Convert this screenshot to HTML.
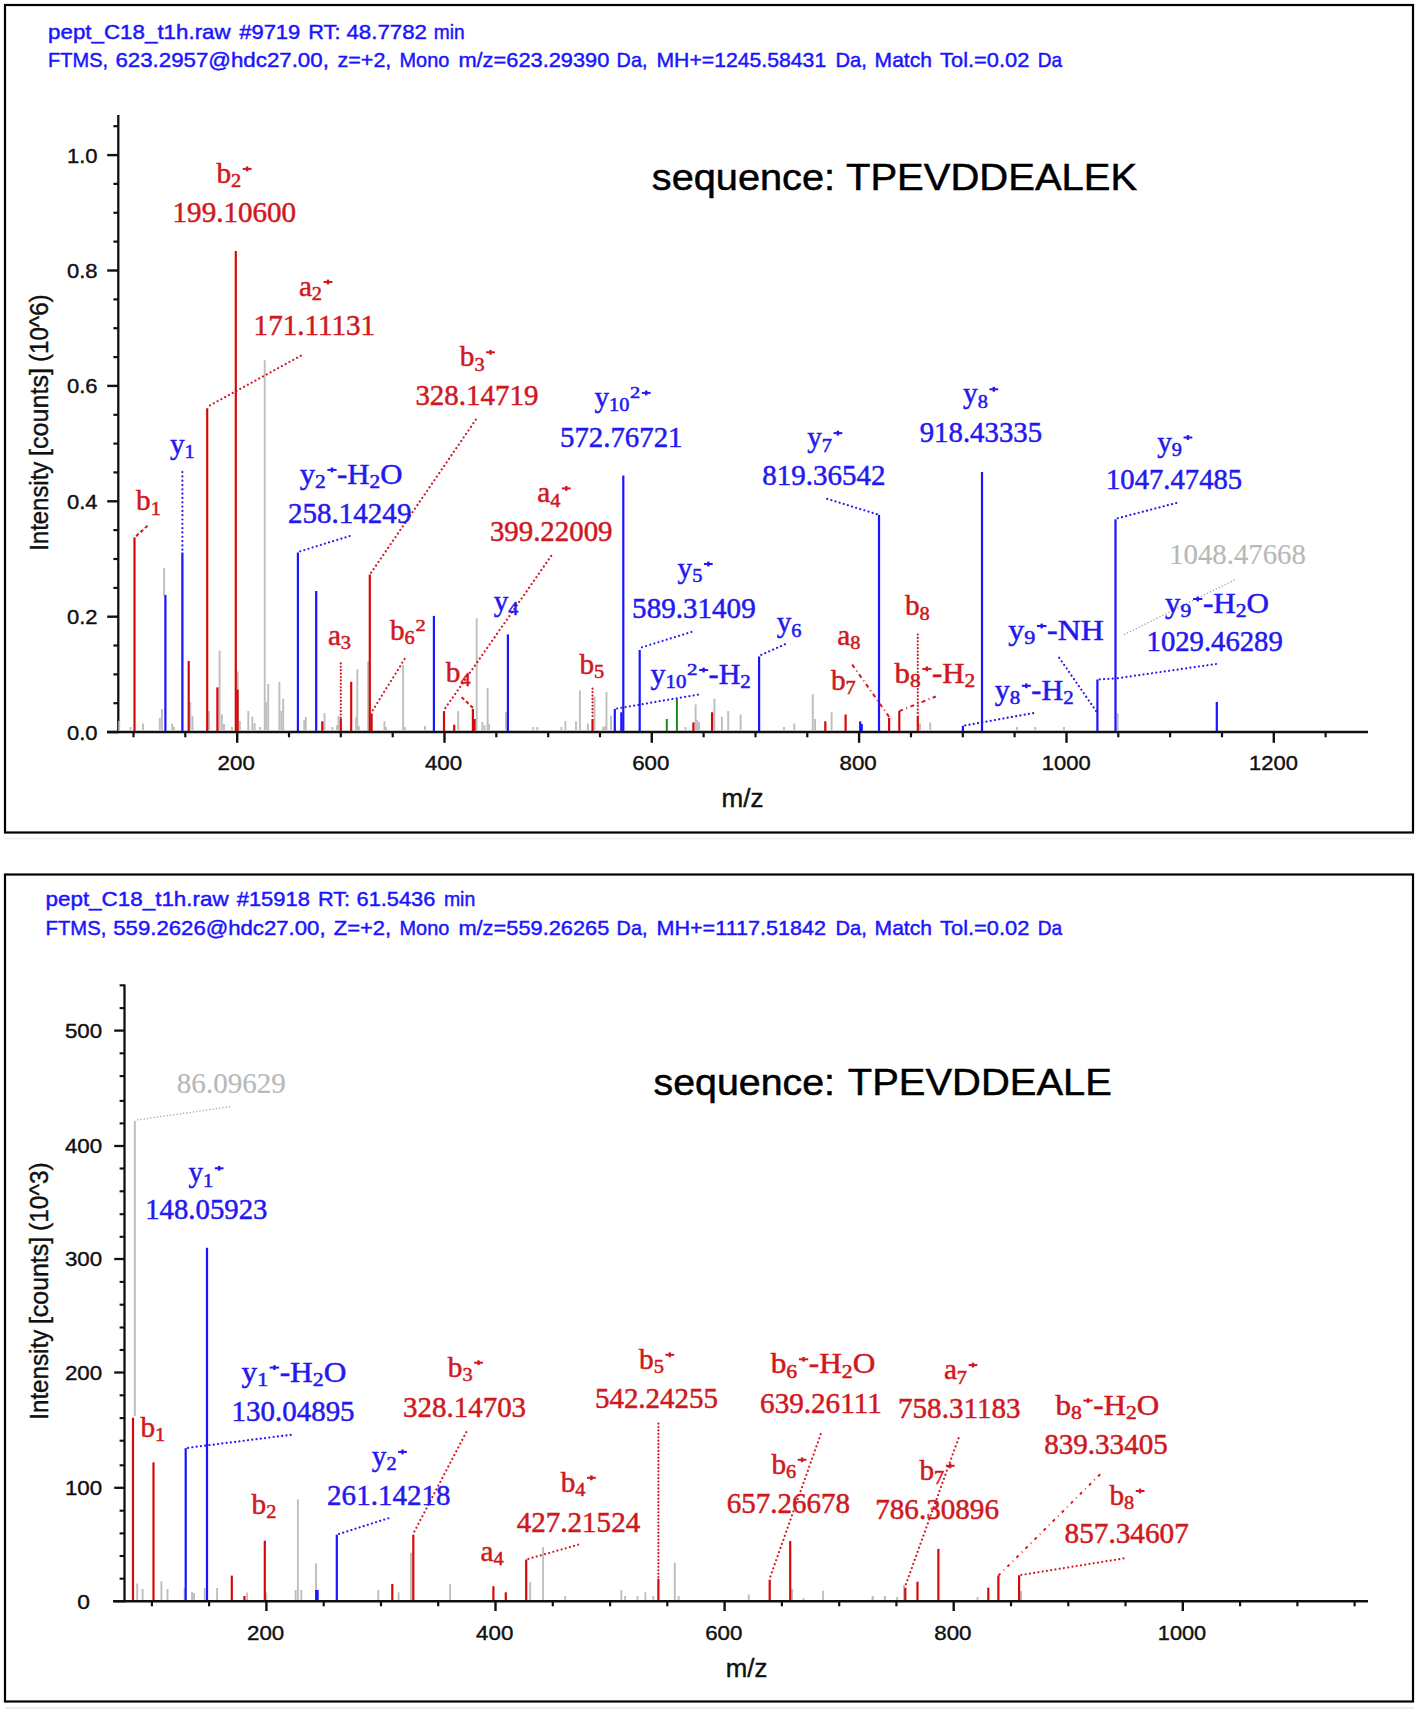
<!DOCTYPE html>
<html><head><meta charset="utf-8"><title>MS/MS spectra</title>
<style>html,body{margin:0;padding:0;background:#fff}svg{display:block}text{white-space:pre}</style></head>
<body><svg width="1418" height="1714" viewBox="0 0 1418 1714">
<rect width="1418" height="1714" fill="#fff"/>
<rect x="5" y="5" width="1408" height="827.5" fill="none" stroke="#000" stroke-width="2.2"/>
<line x1="5" y1="838.5" x2="1414" y2="838.5" stroke="#f2f2f2" stroke-width="1.5"/>
<text x="48.10" y="38.7" font-family="Liberation Sans, sans-serif" font-size="21" fill="#1a14ff" stroke="#1a14ff" stroke-width="0.45" textLength="182.55" lengthAdjust="spacingAndGlyphs">pept_C18_t1h.raw</text>
<text x="239.20" y="38.7" font-family="Liberation Sans, sans-serif" font-size="21" fill="#1a14ff" stroke="#1a14ff" stroke-width="0.45" textLength="61.12" lengthAdjust="spacingAndGlyphs">#9719</text>
<text x="308.30" y="38.7" font-family="Liberation Sans, sans-serif" font-size="21" fill="#1a14ff" stroke="#1a14ff" stroke-width="0.45" textLength="32.14" lengthAdjust="spacingAndGlyphs">RT:</text>
<text x="346.40" y="38.7" font-family="Liberation Sans, sans-serif" font-size="21" fill="#1a14ff" stroke="#1a14ff" stroke-width="0.45" textLength="80.60" lengthAdjust="spacingAndGlyphs">48.7782</text>
<text x="433.80" y="38.7" font-family="Liberation Sans, sans-serif" font-size="21" fill="#1a14ff" stroke="#1a14ff" stroke-width="0.45" textLength="30.83" lengthAdjust="spacingAndGlyphs">min</text>
<text x="48.10" y="67.0" font-family="Liberation Sans, sans-serif" font-size="21" fill="#1a14ff" stroke="#1a14ff" stroke-width="0.45" textLength="59.99" lengthAdjust="spacingAndGlyphs">FTMS,</text>
<text x="115.40" y="67.0" font-family="Liberation Sans, sans-serif" font-size="21" fill="#1a14ff" stroke="#1a14ff" stroke-width="0.45" textLength="213.47" lengthAdjust="spacingAndGlyphs">623.2957@hdc27.00,</text>
<text x="337.50" y="67.0" font-family="Liberation Sans, sans-serif" font-size="21" fill="#1a14ff" stroke="#1a14ff" stroke-width="0.45" textLength="53.84" lengthAdjust="spacingAndGlyphs">z=+2,</text>
<text x="399.50" y="67.0" font-family="Liberation Sans, sans-serif" font-size="21" fill="#1a14ff" stroke="#1a14ff" stroke-width="0.45" textLength="49.83" lengthAdjust="spacingAndGlyphs">Mono</text>
<text x="458.40" y="67.0" font-family="Liberation Sans, sans-serif" font-size="21" fill="#1a14ff" stroke="#1a14ff" stroke-width="0.45" textLength="150.94" lengthAdjust="spacingAndGlyphs">m/z=623.29390</text>
<text x="616.60" y="67.0" font-family="Liberation Sans, sans-serif" font-size="21" fill="#1a14ff" stroke="#1a14ff" stroke-width="0.45" textLength="30.82" lengthAdjust="spacingAndGlyphs">Da,</text>
<text x="656.40" y="67.0" font-family="Liberation Sans, sans-serif" font-size="21" fill="#1a14ff" stroke="#1a14ff" stroke-width="0.45" textLength="169.83" lengthAdjust="spacingAndGlyphs">MH+=1245.58431</text>
<text x="835.50" y="67.0" font-family="Liberation Sans, sans-serif" font-size="21" fill="#1a14ff" stroke="#1a14ff" stroke-width="0.45" textLength="31.32" lengthAdjust="spacingAndGlyphs">Da,</text>
<text x="874.60" y="67.0" font-family="Liberation Sans, sans-serif" font-size="21" fill="#1a14ff" stroke="#1a14ff" stroke-width="0.45" textLength="57.36" lengthAdjust="spacingAndGlyphs">Match</text>
<text x="940.10" y="67.0" font-family="Liberation Sans, sans-serif" font-size="21" fill="#1a14ff" stroke="#1a14ff" stroke-width="0.45" textLength="89.23" lengthAdjust="spacingAndGlyphs">Tol.=0.02</text>
<text x="1037.80" y="67.0" font-family="Liberation Sans, sans-serif" font-size="21" fill="#1a14ff" stroke="#1a14ff" stroke-width="0.45" textLength="24.47" lengthAdjust="spacingAndGlyphs">Da</text>
<text x="651.80" y="189.6" font-family="Liberation Sans, sans-serif" font-size="36.8" fill="#000" stroke="#000" stroke-width="0.5" textLength="183.19" lengthAdjust="spacingAndGlyphs">sequence:</text>
<text x="846.00" y="189.6" font-family="Liberation Sans, sans-serif" font-size="36.8" fill="#000" stroke="#000" stroke-width="0.5" textLength="291.23" lengthAdjust="spacingAndGlyphs">TPEVDDEALEK</text>
<line x1="118.3" y1="115.0" x2="118.3" y2="733.0" stroke="#101010" stroke-width="2.3" />
<line x1="107.0" y1="732.0" x2="1368.0" y2="732.0" stroke="#101010" stroke-width="2.5" />
<line x1="107.2" y1="732.1" x2="118.3" y2="732.1" stroke="#101010" stroke-width="2.4" />
<text x="82.2" y="739.5" font-family="Liberation Sans, sans-serif" font-size="20.8" fill="#101010" stroke="#101010" stroke-width="0.4" text-anchor="middle" textLength="30.6" lengthAdjust="spacingAndGlyphs" >0.0</text>
<line x1="113.4" y1="703.2" x2="118.3" y2="703.2" stroke="#101010" stroke-width="2.2" />
<line x1="113.4" y1="674.4" x2="118.3" y2="674.4" stroke="#101010" stroke-width="2.2" />
<line x1="113.4" y1="645.5" x2="118.3" y2="645.5" stroke="#101010" stroke-width="2.2" />
<line x1="107.2" y1="616.7" x2="118.3" y2="616.7" stroke="#101010" stroke-width="2.4" />
<text x="82.2" y="624.1" font-family="Liberation Sans, sans-serif" font-size="20.8" fill="#101010" stroke="#101010" stroke-width="0.4" text-anchor="middle" textLength="30.6" lengthAdjust="spacingAndGlyphs" >0.2</text>
<line x1="113.4" y1="587.9" x2="118.3" y2="587.9" stroke="#101010" stroke-width="2.2" />
<line x1="113.4" y1="559.0" x2="118.3" y2="559.0" stroke="#101010" stroke-width="2.2" />
<line x1="113.4" y1="530.1" x2="118.3" y2="530.1" stroke="#101010" stroke-width="2.2" />
<line x1="107.2" y1="501.3" x2="118.3" y2="501.3" stroke="#101010" stroke-width="2.4" />
<text x="82.2" y="508.7" font-family="Liberation Sans, sans-serif" font-size="20.8" fill="#101010" stroke="#101010" stroke-width="0.4" text-anchor="middle" textLength="30.6" lengthAdjust="spacingAndGlyphs" >0.4</text>
<line x1="113.4" y1="472.4" x2="118.3" y2="472.4" stroke="#101010" stroke-width="2.2" />
<line x1="113.4" y1="443.6" x2="118.3" y2="443.6" stroke="#101010" stroke-width="2.2" />
<line x1="113.4" y1="414.8" x2="118.3" y2="414.8" stroke="#101010" stroke-width="2.2" />
<line x1="107.2" y1="385.9" x2="118.3" y2="385.9" stroke="#101010" stroke-width="2.4" />
<text x="82.2" y="393.3" font-family="Liberation Sans, sans-serif" font-size="20.8" fill="#101010" stroke="#101010" stroke-width="0.4" text-anchor="middle" textLength="30.6" lengthAdjust="spacingAndGlyphs" >0.6</text>
<line x1="113.4" y1="357.1" x2="118.3" y2="357.1" stroke="#101010" stroke-width="2.2" />
<line x1="113.4" y1="328.2" x2="118.3" y2="328.2" stroke="#101010" stroke-width="2.2" />
<line x1="113.4" y1="299.4" x2="118.3" y2="299.4" stroke="#101010" stroke-width="2.2" />
<line x1="107.2" y1="270.5" x2="118.3" y2="270.5" stroke="#101010" stroke-width="2.4" />
<text x="82.2" y="277.9" font-family="Liberation Sans, sans-serif" font-size="20.8" fill="#101010" stroke="#101010" stroke-width="0.4" text-anchor="middle" textLength="30.6" lengthAdjust="spacingAndGlyphs" >0.8</text>
<line x1="113.4" y1="241.6" x2="118.3" y2="241.6" stroke="#101010" stroke-width="2.2" />
<line x1="113.4" y1="212.8" x2="118.3" y2="212.8" stroke="#101010" stroke-width="2.2" />
<line x1="113.4" y1="183.9" x2="118.3" y2="183.9" stroke="#101010" stroke-width="2.2" />
<line x1="107.2" y1="155.1" x2="118.3" y2="155.1" stroke="#101010" stroke-width="2.4" />
<text x="82.2" y="162.5" font-family="Liberation Sans, sans-serif" font-size="20.8" fill="#101010" stroke="#101010" stroke-width="0.4" text-anchor="middle" textLength="30.6" lengthAdjust="spacingAndGlyphs" >1.0</text>
<line x1="113.4" y1="126.2" x2="118.3" y2="126.2" stroke="#101010" stroke-width="2.2" />
<line x1="133.5" y1="732.0" x2="133.5" y2="737.3" stroke="#101010" stroke-width="2.2" />
<line x1="185.3" y1="732.0" x2="185.3" y2="737.3" stroke="#101010" stroke-width="2.2" />
<line x1="237.2" y1="732.0" x2="237.2" y2="742.8" stroke="#101010" stroke-width="2.4" />
<text x="236.2" y="770.3" font-family="Liberation Sans, sans-serif" font-size="20.8" fill="#101010" stroke="#101010" stroke-width="0.4" text-anchor="middle" textLength="37.2" lengthAdjust="spacingAndGlyphs" >200</text>
<line x1="289.0" y1="732.0" x2="289.0" y2="737.3" stroke="#101010" stroke-width="2.2" />
<line x1="340.8" y1="732.0" x2="340.8" y2="737.3" stroke="#101010" stroke-width="2.2" />
<line x1="392.7" y1="732.0" x2="392.7" y2="737.3" stroke="#101010" stroke-width="2.2" />
<line x1="444.5" y1="732.0" x2="444.5" y2="742.8" stroke="#101010" stroke-width="2.4" />
<text x="443.5" y="770.3" font-family="Liberation Sans, sans-serif" font-size="20.8" fill="#101010" stroke="#101010" stroke-width="0.4" text-anchor="middle" textLength="37.2" lengthAdjust="spacingAndGlyphs" >400</text>
<line x1="496.3" y1="732.0" x2="496.3" y2="737.3" stroke="#101010" stroke-width="2.2" />
<line x1="548.2" y1="732.0" x2="548.2" y2="737.3" stroke="#101010" stroke-width="2.2" />
<line x1="600.0" y1="732.0" x2="600.0" y2="737.3" stroke="#101010" stroke-width="2.2" />
<line x1="651.8" y1="732.0" x2="651.8" y2="742.8" stroke="#101010" stroke-width="2.4" />
<text x="650.8" y="770.3" font-family="Liberation Sans, sans-serif" font-size="20.8" fill="#101010" stroke="#101010" stroke-width="0.4" text-anchor="middle" textLength="37.2" lengthAdjust="spacingAndGlyphs" >600</text>
<line x1="703.6" y1="732.0" x2="703.6" y2="737.3" stroke="#101010" stroke-width="2.2" />
<line x1="755.5" y1="732.0" x2="755.5" y2="737.3" stroke="#101010" stroke-width="2.2" />
<line x1="807.3" y1="732.0" x2="807.3" y2="737.3" stroke="#101010" stroke-width="2.2" />
<line x1="859.1" y1="732.0" x2="859.1" y2="742.8" stroke="#101010" stroke-width="2.4" />
<text x="858.1" y="770.3" font-family="Liberation Sans, sans-serif" font-size="20.8" fill="#101010" stroke="#101010" stroke-width="0.4" text-anchor="middle" textLength="37.2" lengthAdjust="spacingAndGlyphs" >800</text>
<line x1="911.0" y1="732.0" x2="911.0" y2="737.3" stroke="#101010" stroke-width="2.2" />
<line x1="962.8" y1="732.0" x2="962.8" y2="737.3" stroke="#101010" stroke-width="2.2" />
<line x1="1014.6" y1="732.0" x2="1014.6" y2="737.3" stroke="#101010" stroke-width="2.2" />
<line x1="1066.5" y1="732.0" x2="1066.5" y2="742.8" stroke="#101010" stroke-width="2.4" />
<text x="1066.2" y="770.3" font-family="Liberation Sans, sans-serif" font-size="20.8" fill="#101010" stroke="#101010" stroke-width="0.4" text-anchor="middle" textLength="48.8" lengthAdjust="spacingAndGlyphs" >1000</text>
<line x1="1118.3" y1="732.0" x2="1118.3" y2="737.3" stroke="#101010" stroke-width="2.2" />
<line x1="1170.1" y1="732.0" x2="1170.1" y2="737.3" stroke="#101010" stroke-width="2.2" />
<line x1="1222.0" y1="732.0" x2="1222.0" y2="737.3" stroke="#101010" stroke-width="2.2" />
<line x1="1273.8" y1="732.0" x2="1273.8" y2="742.8" stroke="#101010" stroke-width="2.4" />
<text x="1273.5" y="770.3" font-family="Liberation Sans, sans-serif" font-size="20.8" fill="#101010" stroke="#101010" stroke-width="0.4" text-anchor="middle" textLength="48.8" lengthAdjust="spacingAndGlyphs" >1200</text>
<line x1="1325.6" y1="732.0" x2="1325.6" y2="737.3" stroke="#101010" stroke-width="2.2" />
<text x="721.50" y="807.1" font-family="Liberation Sans, sans-serif" font-size="26" fill="#101010" stroke="#101010" stroke-width="0.4" textLength="41.92" lengthAdjust="spacingAndGlyphs">m/z</text>
<g transform="translate(47.6,0) rotate(-90)">
<text x="-550.80" y="0" font-family="Liberation Sans, sans-serif" font-size="26" fill="#101010" stroke="#101010" stroke-width="0.4" textLength="89.08" lengthAdjust="spacingAndGlyphs">Intensity</text>
<text x="-456.10" y="0" font-family="Liberation Sans, sans-serif" font-size="26" fill="#101010" stroke="#101010" stroke-width="0.4" textLength="88.05" lengthAdjust="spacingAndGlyphs">[counts]</text>
<text x="-362.10" y="0" font-family="Liberation Sans, sans-serif" font-size="26" fill="#101010" stroke="#101010" stroke-width="0.4" textLength="67.77" lengthAdjust="spacingAndGlyphs">(10^6)</text>
</g>
<line x1="119.2" y1="721.0" x2="119.2" y2="731.0" stroke="#bebebe" stroke-width="1.9" />
<line x1="130.5" y1="727.0" x2="130.5" y2="731.0" stroke="#bebebe" stroke-width="1.9" />
<line x1="142.9" y1="723.5" x2="142.9" y2="731.0" stroke="#bebebe" stroke-width="1.9" />
<line x1="159.8" y1="718.0" x2="159.8" y2="731.0" stroke="#bebebe" stroke-width="1.9" />
<line x1="162.0" y1="709.0" x2="162.0" y2="731.0" stroke="#bebebe" stroke-width="1.9" />
<line x1="172.2" y1="723.5" x2="172.2" y2="731.0" stroke="#bebebe" stroke-width="1.9" />
<line x1="174.0" y1="727.0" x2="174.0" y2="731.0" stroke="#bebebe" stroke-width="1.9" />
<line x1="190.3" y1="702.0" x2="190.3" y2="731.0" stroke="#bebebe" stroke-width="1.9" />
<line x1="192.5" y1="716.0" x2="192.5" y2="731.0" stroke="#bebebe" stroke-width="1.9" />
<line x1="209.0" y1="711.0" x2="209.0" y2="731.0" stroke="#bebebe" stroke-width="1.9" />
<line x1="219.6" y1="650.6" x2="219.6" y2="731.0" stroke="#bebebe" stroke-width="1.9" />
<line x1="221.9" y1="714.5" x2="221.9" y2="731.0" stroke="#bebebe" stroke-width="1.9" />
<line x1="224.0" y1="724.0" x2="224.0" y2="731.0" stroke="#bebebe" stroke-width="1.9" />
<line x1="232.0" y1="727.0" x2="232.0" y2="731.0" stroke="#bebebe" stroke-width="1.9" />
<line x1="237.7" y1="671.6" x2="237.7" y2="731.0" stroke="#bebebe" stroke-width="1.9" />
<line x1="239.9" y1="721.0" x2="239.9" y2="731.0" stroke="#bebebe" stroke-width="1.9" />
<line x1="248.3" y1="711.0" x2="248.3" y2="731.0" stroke="#bebebe" stroke-width="1.9" />
<line x1="252.3" y1="716.8" x2="252.3" y2="731.0" stroke="#bebebe" stroke-width="1.9" />
<line x1="254.6" y1="723.0" x2="254.6" y2="731.0" stroke="#bebebe" stroke-width="1.9" />
<line x1="260.2" y1="727.0" x2="260.2" y2="731.0" stroke="#bebebe" stroke-width="1.9" />
<line x1="264.7" y1="360.2" x2="264.7" y2="731.0" stroke="#bebebe" stroke-width="1.9" />
<line x1="266.2" y1="702.0" x2="266.2" y2="731.0" stroke="#bebebe" stroke-width="1.9" />
<line x1="268.2" y1="684.0" x2="268.2" y2="731.0" stroke="#bebebe" stroke-width="1.9" />
<line x1="279.4" y1="681.8" x2="279.4" y2="731.0" stroke="#bebebe" stroke-width="1.9" />
<line x1="281.3" y1="711.0" x2="281.3" y2="731.0" stroke="#bebebe" stroke-width="1.9" />
<line x1="283.2" y1="698.7" x2="283.2" y2="731.0" stroke="#bebebe" stroke-width="1.9" />
<line x1="304.2" y1="720.0" x2="304.2" y2="731.0" stroke="#bebebe" stroke-width="1.9" />
<line x1="305.8" y1="717.0" x2="305.8" y2="731.0" stroke="#bebebe" stroke-width="1.9" />
<line x1="324.5" y1="713.0" x2="324.5" y2="731.0" stroke="#bebebe" stroke-width="1.9" />
<line x1="332.4" y1="727.0" x2="332.4" y2="731.0" stroke="#bebebe" stroke-width="1.9" />
<line x1="337.0" y1="725.0" x2="337.0" y2="731.0" stroke="#bebebe" stroke-width="1.9" />
<line x1="338.5" y1="716.0" x2="338.5" y2="731.0" stroke="#bebebe" stroke-width="1.9" />
<line x1="356.1" y1="716.8" x2="356.1" y2="731.0" stroke="#bebebe" stroke-width="1.9" />
<line x1="357.3" y1="669.4" x2="357.3" y2="731.0" stroke="#bebebe" stroke-width="1.9" />
<line x1="358.8" y1="726.0" x2="358.8" y2="731.0" stroke="#bebebe" stroke-width="1.9" />
<line x1="368.1" y1="661.5" x2="368.1" y2="731.0" stroke="#bebebe" stroke-width="1.9" />
<line x1="384.4" y1="721.3" x2="384.4" y2="731.0" stroke="#bebebe" stroke-width="1.9" />
<line x1="386.0" y1="727.0" x2="386.0" y2="731.0" stroke="#bebebe" stroke-width="1.9" />
<line x1="403.1" y1="664.9" x2="403.1" y2="731.0" stroke="#bebebe" stroke-width="1.9" />
<line x1="404.7" y1="727.0" x2="404.7" y2="731.0" stroke="#bebebe" stroke-width="1.9" />
<line x1="425.0" y1="726.0" x2="425.0" y2="731.0" stroke="#bebebe" stroke-width="1.9" />
<line x1="458.2" y1="711.1" x2="458.2" y2="731.0" stroke="#bebebe" stroke-width="1.9" />
<line x1="476.7" y1="618.2" x2="476.7" y2="731.0" stroke="#bebebe" stroke-width="1.9" />
<line x1="482.4" y1="722.0" x2="482.4" y2="731.0" stroke="#bebebe" stroke-width="1.9" />
<line x1="484.5" y1="725.0" x2="484.5" y2="731.0" stroke="#bebebe" stroke-width="1.9" />
<line x1="487.6" y1="688.1" x2="487.6" y2="731.0" stroke="#bebebe" stroke-width="1.9" />
<line x1="489.0" y1="724.0" x2="489.0" y2="731.0" stroke="#bebebe" stroke-width="1.9" />
<line x1="506.0" y1="712.3" x2="506.0" y2="731.0" stroke="#bebebe" stroke-width="1.9" />
<line x1="533.2" y1="727.0" x2="533.2" y2="731.0" stroke="#bebebe" stroke-width="1.9" />
<line x1="537.2" y1="727.0" x2="537.2" y2="731.0" stroke="#bebebe" stroke-width="1.9" />
<line x1="561.4" y1="727.0" x2="561.4" y2="731.0" stroke="#bebebe" stroke-width="1.9" />
<line x1="565.4" y1="721.3" x2="565.4" y2="731.0" stroke="#bebebe" stroke-width="1.9" />
<line x1="576.0" y1="721.3" x2="576.0" y2="731.0" stroke="#bebebe" stroke-width="1.9" />
<line x1="579.9" y1="690.4" x2="579.9" y2="731.0" stroke="#bebebe" stroke-width="1.9" />
<line x1="588.0" y1="723.5" x2="588.0" y2="731.0" stroke="#bebebe" stroke-width="1.9" />
<line x1="594.5" y1="696.5" x2="594.5" y2="731.0" stroke="#bebebe" stroke-width="1.9" />
<line x1="603.0" y1="727.0" x2="603.0" y2="731.0" stroke="#bebebe" stroke-width="1.9" />
<line x1="605.0" y1="726.0" x2="605.0" y2="731.0" stroke="#bebebe" stroke-width="1.9" />
<line x1="606.5" y1="692.0" x2="606.5" y2="731.0" stroke="#bebebe" stroke-width="1.9" />
<line x1="611.0" y1="715.6" x2="611.0" y2="731.0" stroke="#bebebe" stroke-width="1.9" />
<line x1="685.5" y1="727.0" x2="685.5" y2="731.0" stroke="#bebebe" stroke-width="1.9" />
<line x1="695.6" y1="704.4" x2="695.6" y2="731.0" stroke="#bebebe" stroke-width="1.9" />
<line x1="697.0" y1="720.0" x2="697.0" y2="731.0" stroke="#bebebe" stroke-width="1.9" />
<line x1="699.0" y1="722.0" x2="699.0" y2="731.0" stroke="#bebebe" stroke-width="1.9" />
<line x1="714.4" y1="698.7" x2="714.4" y2="731.0" stroke="#bebebe" stroke-width="1.9" />
<line x1="721.9" y1="716.8" x2="721.9" y2="731.0" stroke="#bebebe" stroke-width="1.9" />
<line x1="728.2" y1="711.1" x2="728.2" y2="731.0" stroke="#bebebe" stroke-width="1.9" />
<line x1="740.6" y1="714.5" x2="740.6" y2="731.0" stroke="#bebebe" stroke-width="1.9" />
<line x1="784.0" y1="727.0" x2="784.0" y2="731.0" stroke="#bebebe" stroke-width="1.9" />
<line x1="794.3" y1="723.5" x2="794.3" y2="731.0" stroke="#bebebe" stroke-width="1.9" />
<line x1="812.8" y1="694.2" x2="812.8" y2="731.0" stroke="#bebebe" stroke-width="1.9" />
<line x1="815.1" y1="719.0" x2="815.1" y2="731.0" stroke="#bebebe" stroke-width="1.9" />
<line x1="831.6" y1="712.3" x2="831.6" y2="731.0" stroke="#bebebe" stroke-width="1.9" />
<line x1="920.0" y1="723.5" x2="920.0" y2="731.0" stroke="#bebebe" stroke-width="1.9" />
<line x1="930.2" y1="722.4" x2="930.2" y2="731.0" stroke="#bebebe" stroke-width="1.9" />
<line x1="1017.0" y1="727.0" x2="1017.0" y2="731.0" stroke="#bebebe" stroke-width="1.9" />
<line x1="1035.3" y1="727.0" x2="1035.3" y2="731.0" stroke="#bebebe" stroke-width="1.9" />
<line x1="1064.0" y1="727.0" x2="1064.0" y2="731.0" stroke="#bebebe" stroke-width="1.9" />
<line x1="1117.7" y1="713.4" x2="1117.7" y2="731.0" stroke="#bebebe" stroke-width="1.9" />
<line x1="164.1" y1="567.8" x2="164.1" y2="595.5" stroke="#bebebe" stroke-width="1.9" />
<line x1="666.8" y1="719.0" x2="666.8" y2="731.0" stroke="#1a8a1a" stroke-width="2" />
<line x1="676.9" y1="698.7" x2="676.9" y2="731.0" stroke="#1a8a1a" stroke-width="2" />
<line x1="134.5" y1="537.4" x2="134.5" y2="731.0" stroke="#d40a0a" stroke-width="2.2" />
<line x1="188.7" y1="661.0" x2="188.7" y2="731.0" stroke="#d40a0a" stroke-width="2.2" />
<line x1="207.2" y1="408.2" x2="207.2" y2="731.0" stroke="#d40a0a" stroke-width="2.2" />
<line x1="217.4" y1="687.4" x2="217.4" y2="731.0" stroke="#d40a0a" stroke-width="2.2" />
<line x1="235.8" y1="251.0" x2="235.8" y2="731.0" stroke="#d40a0a" stroke-width="2.2" />
<line x1="237.6" y1="689.7" x2="237.6" y2="731.0" stroke="#d40a0a" stroke-width="2.2" />
<line x1="322.3" y1="721.3" x2="322.3" y2="731.0" stroke="#d40a0a" stroke-width="2.2" />
<line x1="340.8" y1="719.0" x2="340.8" y2="731.0" stroke="#d40a0a" stroke-width="2.2" />
<line x1="351.2" y1="681.8" x2="351.2" y2="731.0" stroke="#d40a0a" stroke-width="2.2" />
<line x1="369.8" y1="574.6" x2="369.8" y2="731.0" stroke="#d40a0a" stroke-width="2.2" />
<line x1="371.6" y1="713.4" x2="371.6" y2="731.0" stroke="#d40a0a" stroke-width="2.2" />
<line x1="444.0" y1="711.1" x2="444.0" y2="731.0" stroke="#d40a0a" stroke-width="2.2" />
<line x1="454.2" y1="724.7" x2="454.2" y2="731.0" stroke="#d40a0a" stroke-width="2.2" />
<line x1="472.9" y1="708.9" x2="472.9" y2="731.0" stroke="#d40a0a" stroke-width="2.2" />
<line x1="474.6" y1="719.0" x2="474.6" y2="731.0" stroke="#d40a0a" stroke-width="2.2" />
<line x1="592.5" y1="719.0" x2="592.5" y2="731.0" stroke="#d40a0a" stroke-width="2.2" />
<line x1="693.4" y1="722.4" x2="693.4" y2="731.0" stroke="#d40a0a" stroke-width="2.2" />
<line x1="712.1" y1="712.3" x2="712.1" y2="731.0" stroke="#d40a0a" stroke-width="2.2" />
<line x1="825.3" y1="721.3" x2="825.3" y2="731.0" stroke="#d40a0a" stroke-width="2.2" />
<line x1="845.6" y1="714.5" x2="845.6" y2="731.0" stroke="#d40a0a" stroke-width="2.2" />
<line x1="889.1" y1="717.9" x2="889.1" y2="731.0" stroke="#d40a0a" stroke-width="2.2" />
<line x1="899.3" y1="711.1" x2="899.3" y2="731.0" stroke="#d40a0a" stroke-width="2.2" />
<line x1="917.8" y1="715.6" x2="917.8" y2="731.0" stroke="#d40a0a" stroke-width="2.2" />
<line x1="165.4" y1="594.9" x2="165.4" y2="731.0" stroke="#1a14ff" stroke-width="2.2" />
<line x1="182.4" y1="552.5" x2="182.4" y2="731.0" stroke="#1a14ff" stroke-width="2.2" />
<line x1="297.9" y1="552.5" x2="297.9" y2="731.0" stroke="#1a14ff" stroke-width="2.2" />
<line x1="316.2" y1="591.0" x2="316.2" y2="731.0" stroke="#1a14ff" stroke-width="2.2" />
<line x1="433.9" y1="615.9" x2="433.9" y2="731.0" stroke="#1a14ff" stroke-width="2.2" />
<line x1="507.9" y1="634.4" x2="507.9" y2="731.0" stroke="#1a14ff" stroke-width="2.2" />
<line x1="614.8" y1="708.9" x2="614.8" y2="731.0" stroke="#1a14ff" stroke-width="2.2" />
<line x1="621.3" y1="712.3" x2="621.3" y2="731.0" stroke="#1a14ff" stroke-width="2.2" />
<line x1="623.3" y1="475.5" x2="623.3" y2="731.0" stroke="#1a14ff" stroke-width="2.2" />
<line x1="639.7" y1="650.0" x2="639.7" y2="731.0" stroke="#1a14ff" stroke-width="2.2" />
<line x1="759.1" y1="656.5" x2="759.1" y2="731.0" stroke="#1a14ff" stroke-width="2.2" />
<line x1="860.2" y1="721.3" x2="860.2" y2="731.0" stroke="#1a14ff" stroke-width="2.2" />
<line x1="861.7" y1="724.0" x2="861.7" y2="731.0" stroke="#1a14ff" stroke-width="2.2" />
<line x1="879.0" y1="514.8" x2="879.0" y2="731.0" stroke="#1a14ff" stroke-width="2.2" />
<line x1="962.9" y1="725.8" x2="962.9" y2="731.0" stroke="#1a14ff" stroke-width="2.2" />
<line x1="982.0" y1="471.9" x2="982.0" y2="731.0" stroke="#1a14ff" stroke-width="2.2" />
<line x1="1097.4" y1="679.5" x2="1097.4" y2="731.0" stroke="#1a14ff" stroke-width="2.2" />
<line x1="1115.5" y1="519.3" x2="1115.5" y2="731.0" stroke="#1a14ff" stroke-width="2.2" />
<line x1="1216.8" y1="701.9" x2="1216.8" y2="731.0" stroke="#1a14ff" stroke-width="2.2" />
<line x1="207.9" y1="406.5" x2="302.7" y2="354.7" stroke="#d01820" stroke-width="2.2" stroke-dasharray="0.01 4.3" stroke-dashoffset="-2.4" stroke-linecap="round"/>
<line x1="136.1" y1="536.2" x2="148.5" y2="524.9" stroke="#d01820" stroke-width="2.0" stroke-dasharray="3.5 2.5"/>
<line x1="182.4" y1="469.7" x2="182.4" y2="551.0" stroke="#2418f0" stroke-width="2.2" stroke-dasharray="0.01 4.3" stroke-dashoffset="-2.4" stroke-linecap="round"/>
<line x1="297.9" y1="552.0" x2="350.5" y2="535.8" stroke="#2418f0" stroke-width="2.2" stroke-dasharray="0.01 4.3" stroke-dashoffset="-2.4" stroke-linecap="round"/>
<line x1="369.8" y1="574.6" x2="476.8" y2="418.2" stroke="#d01820" stroke-width="2.2" stroke-dasharray="0.01 4.3" stroke-dashoffset="-2.4" stroke-linecap="round"/>
<line x1="340.8" y1="661.0" x2="340.8" y2="718.0" stroke="#d01820" stroke-width="2.2" stroke-dasharray="0.01 3.4" stroke-dashoffset="-2.4" stroke-linecap="round"/>
<line x1="371.5" y1="712.3" x2="405.8" y2="657.0" stroke="#d01820" stroke-width="2.2" stroke-dasharray="0.01 4.3" stroke-dashoffset="-2.4" stroke-linecap="round"/>
<line x1="444.0" y1="710.0" x2="552.3" y2="554.3" stroke="#d01820" stroke-width="2.2" stroke-dasharray="0.01 4.3" stroke-dashoffset="-2.4" stroke-linecap="round"/>
<line x1="472.9" y1="707.8" x2="460.9" y2="696.5" stroke="#d01820" stroke-width="2.0" stroke-dasharray="3.5 2.5"/>
<line x1="592.5" y1="686.3" x2="592.5" y2="718.0" stroke="#d01820" stroke-width="2.2" stroke-dasharray="0.01 3.4" stroke-dashoffset="-2.4" stroke-linecap="round"/>
<line x1="639.7" y1="648.0" x2="694.5" y2="631.0" stroke="#2418f0" stroke-width="2.2" stroke-dasharray="0.01 4.3" stroke-dashoffset="-2.4" stroke-linecap="round"/>
<line x1="614.8" y1="708.9" x2="700.2" y2="694.2" stroke="#2418f0" stroke-width="2.2" stroke-dasharray="0.01 4.3" stroke-dashoffset="-2.4" stroke-linecap="round"/>
<line x1="759.1" y1="655.8" x2="786.9" y2="643.4" stroke="#2418f0" stroke-width="2.2" stroke-dasharray="0.01 4.3" stroke-dashoffset="-2.4" stroke-linecap="round"/>
<line x1="879.0" y1="514.8" x2="825.9" y2="498.5" stroke="#2418f0" stroke-width="2.2" stroke-dasharray="0.01 4.3" stroke-dashoffset="-2.4" stroke-linecap="round"/>
<line x1="889.1" y1="716.8" x2="850.8" y2="662.6" stroke="#d01820" stroke-width="2.0" stroke-dasharray="4 3.5 1 3.5"/>
<line x1="917.8" y1="632.1" x2="917.8" y2="715.0" stroke="#d01820" stroke-width="2.2" stroke-dasharray="0.01 3.4" stroke-dashoffset="-2.4" stroke-linecap="round"/>
<line x1="899.3" y1="711.1" x2="935.8" y2="696.5" stroke="#d01820" stroke-width="2.0" stroke-dasharray="4 3.5 1 3.5"/>
<line x1="962.9" y1="725.8" x2="1034.2" y2="712.9" stroke="#2418f0" stroke-width="2.2" stroke-dasharray="0.01 4.3" stroke-dashoffset="-2.4" stroke-linecap="round"/>
<line x1="1115.5" y1="518.8" x2="1176.3" y2="503.0" stroke="#2418f0" stroke-width="2.2" stroke-dasharray="0.01 4.3" stroke-dashoffset="-2.4" stroke-linecap="round"/>
<line x1="1122.2" y1="635.5" x2="1236.2" y2="579.1" stroke="#a0a0a0" stroke-width="1.5" stroke-dasharray="0.01 3.3" stroke-dashoffset="-2.4" stroke-linecap="round"/>
<line x1="1097.4" y1="679.5" x2="1115.5" y2="678.5" stroke="#2418f0" stroke-width="2.2" stroke-dasharray="0.01 4.3" stroke-dashoffset="-2.4" stroke-linecap="round"/>
<line x1="1115.5" y1="678.5" x2="1218.1" y2="663.7" stroke="#2418f0" stroke-width="2.2" stroke-dasharray="0.01 4.3" stroke-dashoffset="-2.4" stroke-linecap="round"/>
<line x1="1057.9" y1="655.8" x2="1096.2" y2="711.1" stroke="#2418f0" stroke-width="2.2" stroke-dasharray="0.01 4.3" stroke-dashoffset="-2.4" stroke-linecap="round"/>
<g font-family="Liberation Serif, serif" fill="#d01820" stroke="#d01820" stroke-width="0.5">
<text x="216.40" y="182.9" font-size="28.7" textLength="14.64" lengthAdjust="spacingAndGlyphs">b</text>
<text x="231.04" y="187.3" font-size="17.8" textLength="10.17" lengthAdjust="spacingAndGlyphs">2</text>
<path d="M242.73 168.90H251.51" stroke-width="2.0" fill="none"/><path d="M247.12 166.50V171.30" stroke-width="2.4" fill="none"/>
</g>
<text x="172.60" y="222.4" font-family="Liberation Serif, serif" font-size="28.7" fill="#d01820" stroke="#d01820" stroke-width="0.5" textLength="123.50" lengthAdjust="spacingAndGlyphs">199.10600</text>
<g font-family="Liberation Serif, serif" fill="#d01820" stroke="#d01820" stroke-width="0.5">
<text x="298.90" y="296.0" font-size="28.7" textLength="12.99" lengthAdjust="spacingAndGlyphs">a</text>
<text x="311.89" y="300.4" font-size="17.8" textLength="10.17" lengthAdjust="spacingAndGlyphs">2</text>
<path d="M323.59 282.00H332.36" stroke-width="2.0" fill="none"/><path d="M327.98 279.60V284.40" stroke-width="2.4" fill="none"/>
</g>
<text x="253.60" y="335.2" font-family="Liberation Serif, serif" font-size="28.7" fill="#d01820" stroke="#d01820" stroke-width="0.5" textLength="121.42" lengthAdjust="spacingAndGlyphs">171.11131</text>
<g font-family="Liberation Serif, serif" fill="#d01820" stroke="#d01820" stroke-width="0.5">
<text x="459.80" y="366.3" font-size="28.7" textLength="14.64" lengthAdjust="spacingAndGlyphs">b</text>
<text x="474.44" y="370.7" font-size="17.8" textLength="10.17" lengthAdjust="spacingAndGlyphs">3</text>
<path d="M486.13 352.30H494.91" stroke-width="2.0" fill="none"/><path d="M490.52 349.90V354.70" stroke-width="2.4" fill="none"/>
</g>
<text x="415.40" y="405.3" font-family="Liberation Serif, serif" font-size="28.7" fill="#d01820" stroke="#d01820" stroke-width="0.5" textLength="123.10" lengthAdjust="spacingAndGlyphs">328.14719</text>
<g font-family="Liberation Serif, serif" fill="#2418f0" stroke="#2418f0" stroke-width="0.5">
<text x="594.50" y="406.9" font-size="28.7" textLength="14.64" lengthAdjust="spacingAndGlyphs">y</text>
<text x="609.14" y="411.3" font-size="17.8" textLength="20.33" lengthAdjust="spacingAndGlyphs">10</text>
<text x="630.08" y="397.7" font-size="17" textLength="10.23" lengthAdjust="spacingAndGlyphs">2</text>
<path d="M641.84 392.90H650.62" stroke-width="2.0" fill="none"/><path d="M646.23 390.50V395.30" stroke-width="2.4" fill="none"/>
</g>
<text x="560.00" y="446.5" font-family="Liberation Serif, serif" font-size="28.7" fill="#2418f0" stroke="#2418f0" stroke-width="0.5" textLength="122.50" lengthAdjust="spacingAndGlyphs">572.76721</text>
<g font-family="Liberation Serif, serif" fill="#2418f0" stroke="#2418f0" stroke-width="0.5">
<text x="807.20" y="447.1" font-size="28.7" textLength="14.64" lengthAdjust="spacingAndGlyphs">y</text>
<text x="821.84" y="451.5" font-size="17.8" textLength="10.17" lengthAdjust="spacingAndGlyphs">7</text>
<path d="M833.53 433.10H842.31" stroke-width="2.0" fill="none"/><path d="M837.92 430.70V435.50" stroke-width="2.4" fill="none"/>
</g>
<text x="762.30" y="485.0" font-family="Liberation Serif, serif" font-size="28.7" fill="#2418f0" stroke="#2418f0" stroke-width="0.5" textLength="123.20" lengthAdjust="spacingAndGlyphs">819.36542</text>
<g font-family="Liberation Serif, serif" fill="#2418f0" stroke="#2418f0" stroke-width="0.5">
<text x="963.10" y="403.3" font-size="28.7" textLength="14.64" lengthAdjust="spacingAndGlyphs">y</text>
<text x="977.74" y="407.7" font-size="17.8" textLength="10.17" lengthAdjust="spacingAndGlyphs">8</text>
<path d="M989.43 389.30H998.21" stroke-width="2.0" fill="none"/><path d="M993.82 386.90V391.70" stroke-width="2.4" fill="none"/>
</g>
<text x="919.70" y="442.3" font-family="Liberation Serif, serif" font-size="28.7" fill="#2418f0" stroke="#2418f0" stroke-width="0.5" textLength="122.40" lengthAdjust="spacingAndGlyphs">918.43335</text>
<g font-family="Liberation Serif, serif" fill="#2418f0" stroke="#2418f0" stroke-width="0.5">
<text x="1157.20" y="451.5" font-size="28.7" textLength="14.64" lengthAdjust="spacingAndGlyphs">y</text>
<text x="1171.84" y="455.9" font-size="17.8" textLength="10.17" lengthAdjust="spacingAndGlyphs">9</text>
<path d="M1183.53 437.50H1192.31" stroke-width="2.0" fill="none"/><path d="M1187.92 435.10V439.90" stroke-width="2.4" fill="none"/>
</g>
<text x="1106.00" y="489.2" font-family="Liberation Serif, serif" font-size="28.7" fill="#2418f0" stroke="#2418f0" stroke-width="0.5" textLength="136.20" lengthAdjust="spacingAndGlyphs">1047.47485</text>
<text x="1169.20" y="564.4" font-family="Liberation Serif, serif" font-size="28.7" fill="#b8b8b8" stroke="#b8b8b8" stroke-width="0.15" textLength="136.70" lengthAdjust="spacingAndGlyphs">1048.47668</text>
<g font-family="Liberation Serif, serif" fill="#2418f0" stroke="#2418f0" stroke-width="0.5">
<text x="1165.10" y="613.0" font-size="28.7" textLength="15.54" lengthAdjust="spacingAndGlyphs">y</text>
<text x="1180.64" y="617.4" font-size="17.8" textLength="10.80" lengthAdjust="spacingAndGlyphs">9</text>
<path d="M1193.07 599.00H1202.38" stroke-width="2.0" fill="none"/><path d="M1197.73 596.60V601.40" stroke-width="2.4" fill="none"/>
<text x="1202.91" y="613.0" font-size="28.7" textLength="32.81" lengthAdjust="spacingAndGlyphs">-H</text>
<text x="1235.72" y="617.4" font-size="17.8" textLength="10.80" lengthAdjust="spacingAndGlyphs">2</text>
<text x="1246.52" y="613.0" font-size="28.7" textLength="22.45" lengthAdjust="spacingAndGlyphs">O</text>
</g>
<text x="1146.60" y="651.3" font-family="Liberation Serif, serif" font-size="28.7" fill="#2418f0" stroke="#2418f0" stroke-width="0.5" textLength="136.20" lengthAdjust="spacingAndGlyphs">1029.46289</text>
<g font-family="Liberation Serif, serif" fill="#2418f0" stroke="#2418f0" stroke-width="0.5">
<text x="1008.20" y="640.0" font-size="28.7" textLength="15.96" lengthAdjust="spacingAndGlyphs">y</text>
<text x="1024.16" y="644.4" font-size="17.8" textLength="11.09" lengthAdjust="spacingAndGlyphs">9</text>
<path d="M1036.92 626.00H1046.49" stroke-width="2.0" fill="none"/><path d="M1041.70 623.60V628.40" stroke-width="2.4" fill="none"/>
<text x="1047.03" y="640.0" font-size="28.7" textLength="56.75" lengthAdjust="spacingAndGlyphs">-NH</text>
</g>
<g font-family="Liberation Serif, serif" fill="#2418f0" stroke="#2418f0" stroke-width="0.5">
<text x="994.70" y="699.8" font-size="28.7" textLength="15.08" lengthAdjust="spacingAndGlyphs">y</text>
<text x="1009.78" y="704.2" font-size="17.8" textLength="10.48" lengthAdjust="spacingAndGlyphs">8</text>
<path d="M1021.84 685.80H1030.88" stroke-width="2.0" fill="none"/><path d="M1026.36 683.40V688.20" stroke-width="2.4" fill="none"/>
<text x="1031.39" y="699.8" font-size="28.7" textLength="31.83" lengthAdjust="spacingAndGlyphs">-H</text>
<text x="1063.22" y="704.2" font-size="17.8" textLength="10.48" lengthAdjust="spacingAndGlyphs">2</text>
</g>
<g font-family="Liberation Serif, serif" fill="#d01820" stroke="#d01820" stroke-width="0.5">
<text x="904.90" y="615.2" font-size="28.7" textLength="14.64" lengthAdjust="spacingAndGlyphs">b</text>
<text x="919.54" y="619.6" font-size="17.8" textLength="10.17" lengthAdjust="spacingAndGlyphs">8</text>
</g>
<g font-family="Liberation Serif, serif" fill="#d01820" stroke="#d01820" stroke-width="0.5">
<text x="894.50" y="682.9" font-size="28.7" textLength="15.43" lengthAdjust="spacingAndGlyphs">b</text>
<text x="909.93" y="687.3" font-size="17.8" textLength="10.72" lengthAdjust="spacingAndGlyphs">8</text>
<path d="M922.26 668.90H931.50" stroke-width="2.0" fill="none"/><path d="M926.88 666.50V671.30" stroke-width="2.4" fill="none"/>
<text x="932.03" y="682.9" font-size="28.7" textLength="32.56" lengthAdjust="spacingAndGlyphs">-H</text>
<text x="964.58" y="687.3" font-size="17.8" textLength="10.72" lengthAdjust="spacingAndGlyphs">2</text>
</g>
<g font-family="Liberation Serif, serif" fill="#d01820" stroke="#d01820" stroke-width="0.5">
<text x="837.20" y="644.6" font-size="28.7" textLength="12.99" lengthAdjust="spacingAndGlyphs">a</text>
<text x="850.19" y="649.0" font-size="17.8" textLength="10.17" lengthAdjust="spacingAndGlyphs">8</text>
</g>
<g font-family="Liberation Serif, serif" fill="#d01820" stroke="#d01820" stroke-width="0.5">
<text x="830.90" y="689.7" font-size="28.7" textLength="14.64" lengthAdjust="spacingAndGlyphs">b</text>
<text x="845.54" y="694.1" font-size="17.8" textLength="10.17" lengthAdjust="spacingAndGlyphs">7</text>
</g>
<g font-family="Liberation Serif, serif" fill="#2418f0" stroke="#2418f0" stroke-width="0.5">
<text x="776.70" y="632.1" font-size="28.7" textLength="14.64" lengthAdjust="spacingAndGlyphs">y</text>
<text x="791.34" y="636.5" font-size="17.8" textLength="10.17" lengthAdjust="spacingAndGlyphs">6</text>
</g>
<g font-family="Liberation Serif, serif" fill="#2418f0" stroke="#2418f0" stroke-width="0.5">
<text x="677.60" y="578.0" font-size="28.7" textLength="14.64" lengthAdjust="spacingAndGlyphs">y</text>
<text x="692.24" y="582.4" font-size="17.8" textLength="10.17" lengthAdjust="spacingAndGlyphs">5</text>
<path d="M703.93 564.00H712.71" stroke-width="2.0" fill="none"/><path d="M708.32 561.60V566.40" stroke-width="2.4" fill="none"/>
</g>
<text x="632.10" y="617.5" font-family="Liberation Serif, serif" font-size="28.7" fill="#2418f0" stroke="#2418f0" stroke-width="0.5" textLength="123.60" lengthAdjust="spacingAndGlyphs">589.31409</text>
<g font-family="Liberation Serif, serif" fill="#2418f0" stroke="#2418f0" stroke-width="0.5">
<text x="650.50" y="684.0" font-size="28.7" textLength="15.03" lengthAdjust="spacingAndGlyphs">y</text>
<text x="665.53" y="688.4" font-size="17.8" textLength="20.88" lengthAdjust="spacingAndGlyphs">10</text>
<text x="687.04" y="674.8" font-size="17" textLength="10.51" lengthAdjust="spacingAndGlyphs">2</text>
<path d="M699.12 670.00H708.13" stroke-width="2.0" fill="none"/><path d="M703.62 667.60V672.40" stroke-width="2.4" fill="none"/>
<text x="708.64" y="684.0" font-size="28.7" textLength="31.72" lengthAdjust="spacingAndGlyphs">-H</text>
<text x="740.36" y="688.4" font-size="17.8" textLength="10.44" lengthAdjust="spacingAndGlyphs">2</text>
</g>
<g font-family="Liberation Serif, serif" fill="#d01820" stroke="#d01820" stroke-width="0.5">
<text x="579.40" y="673.9" font-size="28.7" textLength="14.64" lengthAdjust="spacingAndGlyphs">b</text>
<text x="594.04" y="678.3" font-size="17.8" textLength="10.17" lengthAdjust="spacingAndGlyphs">5</text>
</g>
<g font-family="Liberation Serif, serif" fill="#2418f0" stroke="#2418f0" stroke-width="0.5">
<text x="493.70" y="610.7" font-size="28.7" textLength="14.64" lengthAdjust="spacingAndGlyphs">y</text>
<text x="508.34" y="615.1" font-size="17.8" textLength="10.17" lengthAdjust="spacingAndGlyphs">4</text>
</g>
<g font-family="Liberation Serif, serif" fill="#d01820" stroke="#d01820" stroke-width="0.5">
<text x="537.20" y="502.4" font-size="28.7" textLength="12.99" lengthAdjust="spacingAndGlyphs">a</text>
<text x="550.19" y="506.8" font-size="17.8" textLength="10.17" lengthAdjust="spacingAndGlyphs">4</text>
<path d="M561.89 488.40H570.66" stroke-width="2.0" fill="none"/><path d="M566.28 486.00V490.80" stroke-width="2.4" fill="none"/>
</g>
<text x="489.90" y="541.2" font-family="Liberation Serif, serif" font-size="28.7" fill="#d01820" stroke="#d01820" stroke-width="0.5" textLength="122.60" lengthAdjust="spacingAndGlyphs">399.22009</text>
<g font-family="Liberation Serif, serif" fill="#d01820" stroke="#d01820" stroke-width="0.5">
<text x="445.80" y="681.8" font-size="28.7" textLength="14.64" lengthAdjust="spacingAndGlyphs">b</text>
<text x="460.44" y="686.2" font-size="17.8" textLength="10.17" lengthAdjust="spacingAndGlyphs">4</text>
</g>
<g font-family="Liberation Serif, serif" fill="#d01820" stroke="#d01820" stroke-width="0.5">
<text x="390.00" y="640.0" font-size="28.7" textLength="14.64" lengthAdjust="spacingAndGlyphs">b</text>
<text x="404.64" y="644.4" font-size="17.8" textLength="10.17" lengthAdjust="spacingAndGlyphs">6</text>
<text x="415.42" y="630.8" font-size="17" textLength="10.23" lengthAdjust="spacingAndGlyphs">2</text>
</g>
<g font-family="Liberation Serif, serif" fill="#d01820" stroke="#d01820" stroke-width="0.5">
<text x="327.90" y="644.6" font-size="28.7" textLength="12.99" lengthAdjust="spacingAndGlyphs">a</text>
<text x="340.89" y="649.0" font-size="17.8" textLength="10.17" lengthAdjust="spacingAndGlyphs">3</text>
</g>
<g font-family="Liberation Serif, serif" fill="#2418f0" stroke="#2418f0" stroke-width="0.5">
<text x="299.70" y="483.9" font-size="28.7" textLength="15.38" lengthAdjust="spacingAndGlyphs">y</text>
<text x="315.08" y="488.3" font-size="17.8" textLength="10.68" lengthAdjust="spacingAndGlyphs">2</text>
<path d="M327.37 469.90H336.59" stroke-width="2.0" fill="none"/><path d="M331.98 467.50V472.30" stroke-width="2.4" fill="none"/>
<text x="337.11" y="483.9" font-size="28.7" textLength="32.46" lengthAdjust="spacingAndGlyphs">-H</text>
<text x="369.57" y="488.3" font-size="17.8" textLength="10.68" lengthAdjust="spacingAndGlyphs">2</text>
<text x="380.25" y="483.9" font-size="28.7" textLength="22.21" lengthAdjust="spacingAndGlyphs">O</text>
</g>
<text x="288.00" y="522.7" font-family="Liberation Serif, serif" font-size="28.7" fill="#2418f0" stroke="#2418f0" stroke-width="0.5" textLength="123.40" lengthAdjust="spacingAndGlyphs">258.14249</text>
<g font-family="Liberation Serif, serif" fill="#2418f0" stroke="#2418f0" stroke-width="0.5">
<text x="170.00" y="453.9" font-size="28.7" textLength="14.64" lengthAdjust="spacingAndGlyphs">y</text>
<text x="184.64" y="458.3" font-size="17.8" textLength="10.17" lengthAdjust="spacingAndGlyphs">1</text>
</g>
<g font-family="Liberation Serif, serif" fill="#d01820" stroke="#d01820" stroke-width="0.5">
<text x="136.10" y="510.3" font-size="28.7" textLength="14.64" lengthAdjust="spacingAndGlyphs">b</text>
<text x="150.74" y="514.7" font-size="17.8" textLength="10.17" lengthAdjust="spacingAndGlyphs">1</text>
</g>
<rect x="5" y="874.5" width="1408" height="827" fill="none" stroke="#000" stroke-width="2.2"/>
<line x1="5" y1="1708" x2="1414" y2="1708" stroke="#ededed" stroke-width="2"/>
<text x="45.50" y="906.0" font-family="Liberation Sans, sans-serif" font-size="21" fill="#1a14ff" stroke="#1a14ff" stroke-width="0.45" textLength="183.15" lengthAdjust="spacingAndGlyphs">pept_C18_t1h.raw</text>
<text x="236.70" y="906.0" font-family="Liberation Sans, sans-serif" font-size="21" fill="#1a14ff" stroke="#1a14ff" stroke-width="0.45" textLength="73.24" lengthAdjust="spacingAndGlyphs">#15918</text>
<text x="318.00" y="906.0" font-family="Liberation Sans, sans-serif" font-size="21" fill="#1a14ff" stroke="#1a14ff" stroke-width="0.45" textLength="32.04" lengthAdjust="spacingAndGlyphs">RT:</text>
<text x="356.50" y="906.0" font-family="Liberation Sans, sans-serif" font-size="21" fill="#1a14ff" stroke="#1a14ff" stroke-width="0.45" textLength="78.90" lengthAdjust="spacingAndGlyphs">61.5436</text>
<text x="443.90" y="906.0" font-family="Liberation Sans, sans-serif" font-size="21" fill="#1a14ff" stroke="#1a14ff" stroke-width="0.45" textLength="31.33" lengthAdjust="spacingAndGlyphs">min</text>
<text x="45.50" y="934.8" font-family="Liberation Sans, sans-serif" font-size="21" fill="#1a14ff" stroke="#1a14ff" stroke-width="0.45" textLength="60.79" lengthAdjust="spacingAndGlyphs">FTMS,</text>
<text x="113.30" y="934.8" font-family="Liberation Sans, sans-serif" font-size="21" fill="#1a14ff" stroke="#1a14ff" stroke-width="0.45" textLength="212.27" lengthAdjust="spacingAndGlyphs">559.2626@hdc27.00,</text>
<text x="333.70" y="934.8" font-family="Liberation Sans, sans-serif" font-size="21" fill="#1a14ff" stroke="#1a14ff" stroke-width="0.45" textLength="57.55" lengthAdjust="spacingAndGlyphs">Z=+2,</text>
<text x="399.50" y="934.8" font-family="Liberation Sans, sans-serif" font-size="21" fill="#1a14ff" stroke="#1a14ff" stroke-width="0.45" textLength="49.83" lengthAdjust="spacingAndGlyphs">Mono</text>
<text x="458.40" y="934.8" font-family="Liberation Sans, sans-serif" font-size="21" fill="#1a14ff" stroke="#1a14ff" stroke-width="0.45" textLength="150.94" lengthAdjust="spacingAndGlyphs">m/z=559.26265</text>
<text x="616.60" y="934.8" font-family="Liberation Sans, sans-serif" font-size="21" fill="#1a14ff" stroke="#1a14ff" stroke-width="0.45" textLength="30.82" lengthAdjust="spacingAndGlyphs">Da,</text>
<text x="656.40" y="934.8" font-family="Liberation Sans, sans-serif" font-size="21" fill="#1a14ff" stroke="#1a14ff" stroke-width="0.45" textLength="169.76" lengthAdjust="spacingAndGlyphs">MH+=1117.51842</text>
<text x="835.50" y="934.8" font-family="Liberation Sans, sans-serif" font-size="21" fill="#1a14ff" stroke="#1a14ff" stroke-width="0.45" textLength="31.32" lengthAdjust="spacingAndGlyphs">Da,</text>
<text x="874.60" y="934.8" font-family="Liberation Sans, sans-serif" font-size="21" fill="#1a14ff" stroke="#1a14ff" stroke-width="0.45" textLength="57.36" lengthAdjust="spacingAndGlyphs">Match</text>
<text x="940.10" y="934.8" font-family="Liberation Sans, sans-serif" font-size="21" fill="#1a14ff" stroke="#1a14ff" stroke-width="0.45" textLength="89.23" lengthAdjust="spacingAndGlyphs">Tol.=0.02</text>
<text x="1037.80" y="934.8" font-family="Liberation Sans, sans-serif" font-size="21" fill="#1a14ff" stroke="#1a14ff" stroke-width="0.45" textLength="24.47" lengthAdjust="spacingAndGlyphs">Da</text>
<text x="653.60" y="1094.7" font-family="Liberation Sans, sans-serif" font-size="36.8" fill="#000" stroke="#000" stroke-width="0.5" textLength="181.39" lengthAdjust="spacingAndGlyphs">sequence:</text>
<text x="847.80" y="1094.7" font-family="Liberation Sans, sans-serif" font-size="36.8" fill="#000" stroke="#000" stroke-width="0.5" textLength="264.14" lengthAdjust="spacingAndGlyphs">TPEVDDEALE</text>
<line x1="124.5" y1="984.5" x2="124.5" y2="1602.2" stroke="#101010" stroke-width="2.3" />
<line x1="113.0" y1="1601.2" x2="1368.0" y2="1601.2" stroke="#101010" stroke-width="2.5" />
<line x1="119.6" y1="985.3" x2="124.5" y2="985.3" stroke="#101010" stroke-width="2.1" />
<line x1="119.6" y1="1008.1" x2="124.5" y2="1008.1" stroke="#101010" stroke-width="2.1" />
<line x1="114.2" y1="1030.6" x2="124.5" y2="1030.6" stroke="#101010" stroke-width="2.3" />
<text x="83.5" y="1038.0" font-family="Liberation Sans, sans-serif" font-size="20.8" fill="#101010" stroke="#101010" stroke-width="0.4" text-anchor="middle" textLength="37.2" lengthAdjust="spacingAndGlyphs" >500</text>
<line x1="119.6" y1="1053.3" x2="124.5" y2="1053.3" stroke="#101010" stroke-width="2.1" />
<line x1="119.6" y1="1076.1" x2="124.5" y2="1076.1" stroke="#101010" stroke-width="2.1" />
<line x1="119.6" y1="1100.9" x2="124.5" y2="1100.9" stroke="#101010" stroke-width="2.1" />
<line x1="119.6" y1="1123.4" x2="124.5" y2="1123.4" stroke="#101010" stroke-width="2.1" />
<line x1="114.2" y1="1146.0" x2="124.5" y2="1146.0" stroke="#101010" stroke-width="2.3" />
<text x="83.5" y="1153.4" font-family="Liberation Sans, sans-serif" font-size="20.8" fill="#101010" stroke="#101010" stroke-width="0.4" text-anchor="middle" textLength="37.2" lengthAdjust="spacingAndGlyphs" >400</text>
<line x1="119.6" y1="1168.5" x2="124.5" y2="1168.5" stroke="#101010" stroke-width="2.1" />
<line x1="119.6" y1="1191.3" x2="124.5" y2="1191.3" stroke="#101010" stroke-width="2.1" />
<line x1="119.6" y1="1214.2" x2="124.5" y2="1214.2" stroke="#101010" stroke-width="2.1" />
<line x1="119.6" y1="1236.8" x2="124.5" y2="1236.8" stroke="#101010" stroke-width="2.1" />
<line x1="114.2" y1="1259.0" x2="124.5" y2="1259.0" stroke="#101010" stroke-width="2.3" />
<text x="83.5" y="1266.4" font-family="Liberation Sans, sans-serif" font-size="20.8" fill="#101010" stroke="#101010" stroke-width="0.4" text-anchor="middle" textLength="37.2" lengthAdjust="spacingAndGlyphs" >300</text>
<line x1="119.6" y1="1281.9" x2="124.5" y2="1281.9" stroke="#101010" stroke-width="2.1" />
<line x1="119.6" y1="1304.7" x2="124.5" y2="1304.7" stroke="#101010" stroke-width="2.1" />
<line x1="119.6" y1="1327.5" x2="124.5" y2="1327.5" stroke="#101010" stroke-width="2.1" />
<line x1="119.6" y1="1350.0" x2="124.5" y2="1350.0" stroke="#101010" stroke-width="2.1" />
<line x1="114.2" y1="1372.5" x2="124.5" y2="1372.5" stroke="#101010" stroke-width="2.3" />
<text x="83.5" y="1379.9" font-family="Liberation Sans, sans-serif" font-size="20.8" fill="#101010" stroke="#101010" stroke-width="0.4" text-anchor="middle" textLength="37.2" lengthAdjust="spacingAndGlyphs" >200</text>
<line x1="119.6" y1="1395.3" x2="124.5" y2="1395.3" stroke="#101010" stroke-width="2.1" />
<line x1="119.6" y1="1418.1" x2="124.5" y2="1418.1" stroke="#101010" stroke-width="2.1" />
<line x1="119.6" y1="1440.7" x2="124.5" y2="1440.7" stroke="#101010" stroke-width="2.1" />
<line x1="119.6" y1="1465.3" x2="124.5" y2="1465.3" stroke="#101010" stroke-width="2.1" />
<line x1="114.2" y1="1487.8" x2="124.5" y2="1487.8" stroke="#101010" stroke-width="2.3" />
<text x="83.5" y="1495.2" font-family="Liberation Sans, sans-serif" font-size="20.8" fill="#101010" stroke="#101010" stroke-width="0.4" text-anchor="middle" textLength="37.2" lengthAdjust="spacingAndGlyphs" >100</text>
<line x1="119.6" y1="1510.7" x2="124.5" y2="1510.7" stroke="#101010" stroke-width="2.1" />
<line x1="119.6" y1="1533.4" x2="124.5" y2="1533.4" stroke="#101010" stroke-width="2.1" />
<line x1="119.6" y1="1556.0" x2="124.5" y2="1556.0" stroke="#101010" stroke-width="2.1" />
<line x1="119.6" y1="1578.7" x2="124.5" y2="1578.7" stroke="#101010" stroke-width="2.1" />
<line x1="114.2" y1="1601.2" x2="124.5" y2="1601.2" stroke="#101010" stroke-width="2.3" />
<text x="83.5" y="1608.6" font-family="Liberation Sans, sans-serif" font-size="20.8" fill="#101010" stroke="#101010" stroke-width="0.4" text-anchor="middle" textLength="12.7" lengthAdjust="spacingAndGlyphs" >0</text>
<line x1="151.9" y1="1601.2" x2="151.9" y2="1606.3" stroke="#101010" stroke-width="2.2" />
<line x1="209.1" y1="1601.2" x2="209.1" y2="1606.3" stroke="#101010" stroke-width="2.2" />
<line x1="266.4" y1="1601.2" x2="266.4" y2="1611.0" stroke="#101010" stroke-width="2.4" />
<text x="265.6" y="1639.6" font-family="Liberation Sans, sans-serif" font-size="20.8" fill="#101010" stroke="#101010" stroke-width="0.4" text-anchor="middle" textLength="37.2" lengthAdjust="spacingAndGlyphs" >200</text>
<line x1="323.7" y1="1601.2" x2="323.7" y2="1606.3" stroke="#101010" stroke-width="2.2" />
<line x1="381.0" y1="1601.2" x2="381.0" y2="1606.3" stroke="#101010" stroke-width="2.2" />
<line x1="438.2" y1="1601.2" x2="438.2" y2="1606.3" stroke="#101010" stroke-width="2.2" />
<line x1="495.5" y1="1601.2" x2="495.5" y2="1611.0" stroke="#101010" stroke-width="2.4" />
<text x="494.7" y="1639.6" font-family="Liberation Sans, sans-serif" font-size="20.8" fill="#101010" stroke="#101010" stroke-width="0.4" text-anchor="middle" textLength="37.2" lengthAdjust="spacingAndGlyphs" >400</text>
<line x1="552.8" y1="1601.2" x2="552.8" y2="1606.3" stroke="#101010" stroke-width="2.2" />
<line x1="610.1" y1="1601.2" x2="610.1" y2="1606.3" stroke="#101010" stroke-width="2.2" />
<line x1="667.3" y1="1601.2" x2="667.3" y2="1606.3" stroke="#101010" stroke-width="2.2" />
<line x1="724.6" y1="1601.2" x2="724.6" y2="1611.0" stroke="#101010" stroke-width="2.4" />
<text x="723.8" y="1639.6" font-family="Liberation Sans, sans-serif" font-size="20.8" fill="#101010" stroke="#101010" stroke-width="0.4" text-anchor="middle" textLength="37.2" lengthAdjust="spacingAndGlyphs" >600</text>
<line x1="781.9" y1="1601.2" x2="781.9" y2="1606.3" stroke="#101010" stroke-width="2.2" />
<line x1="839.2" y1="1601.2" x2="839.2" y2="1606.3" stroke="#101010" stroke-width="2.2" />
<line x1="896.4" y1="1601.2" x2="896.4" y2="1606.3" stroke="#101010" stroke-width="2.2" />
<line x1="953.7" y1="1601.2" x2="953.7" y2="1611.0" stroke="#101010" stroke-width="2.4" />
<text x="952.9" y="1639.6" font-family="Liberation Sans, sans-serif" font-size="20.8" fill="#101010" stroke="#101010" stroke-width="0.4" text-anchor="middle" textLength="37.2" lengthAdjust="spacingAndGlyphs" >800</text>
<line x1="1011.0" y1="1601.2" x2="1011.0" y2="1606.3" stroke="#101010" stroke-width="2.2" />
<line x1="1068.3" y1="1601.2" x2="1068.3" y2="1606.3" stroke="#101010" stroke-width="2.2" />
<line x1="1125.5" y1="1601.2" x2="1125.5" y2="1606.3" stroke="#101010" stroke-width="2.2" />
<line x1="1182.8" y1="1601.2" x2="1182.8" y2="1611.0" stroke="#101010" stroke-width="2.4" />
<text x="1182.0" y="1639.6" font-family="Liberation Sans, sans-serif" font-size="20.8" fill="#101010" stroke="#101010" stroke-width="0.4" text-anchor="middle" textLength="48.4" lengthAdjust="spacingAndGlyphs" >1000</text>
<line x1="1240.1" y1="1601.2" x2="1240.1" y2="1606.3" stroke="#101010" stroke-width="2.2" />
<line x1="1297.4" y1="1601.2" x2="1297.4" y2="1606.3" stroke="#101010" stroke-width="2.2" />
<line x1="1354.6" y1="1601.2" x2="1354.6" y2="1606.3" stroke="#101010" stroke-width="2.2" />
<text x="725.70" y="1676.5" font-family="Liberation Sans, sans-serif" font-size="26" fill="#101010" stroke="#101010" stroke-width="0.4" textLength="41.62" lengthAdjust="spacingAndGlyphs">m/z</text>
<g transform="translate(47.6,0) rotate(-90)">
<text x="-1419.80" y="0" font-family="Liberation Sans, sans-serif" font-size="26" fill="#101010" stroke="#101010" stroke-width="0.4" textLength="90.08" lengthAdjust="spacingAndGlyphs">Intensity</text>
<text x="-1324.10" y="0" font-family="Liberation Sans, sans-serif" font-size="26" fill="#101010" stroke="#101010" stroke-width="0.4" textLength="87.25" lengthAdjust="spacingAndGlyphs">[counts]</text>
<text x="-1230.90" y="0" font-family="Liberation Sans, sans-serif" font-size="26" fill="#101010" stroke="#101010" stroke-width="0.4" textLength="68.57" lengthAdjust="spacingAndGlyphs">(10^3)</text>
</g>
<line x1="134.8" y1="1120.7" x2="134.8" y2="1416.0" stroke="#bebebe" stroke-width="2.0" />
<line x1="137.2" y1="1583.5" x2="137.2" y2="1600.0" stroke="#bebebe" stroke-width="1.9" />
<line x1="142.6" y1="1589.0" x2="142.6" y2="1600.0" stroke="#bebebe" stroke-width="1.9" />
<line x1="161.4" y1="1581.3" x2="161.4" y2="1600.0" stroke="#bebebe" stroke-width="1.9" />
<line x1="167.5" y1="1589.0" x2="167.5" y2="1600.0" stroke="#bebebe" stroke-width="1.9" />
<line x1="184.6" y1="1588.0" x2="184.6" y2="1600.0" stroke="#bebebe" stroke-width="1.9" />
<line x1="192.0" y1="1592.0" x2="192.0" y2="1600.0" stroke="#bebebe" stroke-width="1.9" />
<line x1="194.0" y1="1593.0" x2="194.0" y2="1600.0" stroke="#bebebe" stroke-width="1.9" />
<line x1="204.7" y1="1588.0" x2="204.7" y2="1600.0" stroke="#bebebe" stroke-width="1.9" />
<line x1="217.1" y1="1588.0" x2="217.1" y2="1600.0" stroke="#bebebe" stroke-width="1.9" />
<line x1="247.1" y1="1592.5" x2="247.1" y2="1600.0" stroke="#bebebe" stroke-width="1.9" />
<line x1="266.3" y1="1592.5" x2="266.3" y2="1600.0" stroke="#bebebe" stroke-width="1.9" />
<line x1="295.6" y1="1590.0" x2="295.6" y2="1600.0" stroke="#bebebe" stroke-width="1.9" />
<line x1="297.9" y1="1499.4" x2="297.9" y2="1600.0" stroke="#bebebe" stroke-width="1.9" />
<line x1="301.3" y1="1590.0" x2="301.3" y2="1600.0" stroke="#bebebe" stroke-width="1.9" />
<line x1="316.0" y1="1563.2" x2="316.0" y2="1600.0" stroke="#bebebe" stroke-width="1.9" />
<line x1="378.3" y1="1590.0" x2="378.3" y2="1600.0" stroke="#bebebe" stroke-width="1.9" />
<line x1="398.6" y1="1592.3" x2="398.6" y2="1600.0" stroke="#bebebe" stroke-width="1.9" />
<line x1="411.0" y1="1552.8" x2="411.0" y2="1600.0" stroke="#bebebe" stroke-width="1.9" />
<line x1="450.1" y1="1583.9" x2="450.1" y2="1600.0" stroke="#bebebe" stroke-width="1.9" />
<line x1="530.2" y1="1582.1" x2="530.2" y2="1600.0" stroke="#bebebe" stroke-width="1.9" />
<line x1="543.1" y1="1547.1" x2="543.1" y2="1600.0" stroke="#bebebe" stroke-width="1.9" />
<line x1="565.2" y1="1596.0" x2="565.2" y2="1600.0" stroke="#bebebe" stroke-width="1.9" />
<line x1="621.3" y1="1590.0" x2="621.3" y2="1600.0" stroke="#bebebe" stroke-width="1.9" />
<line x1="625.1" y1="1596.0" x2="625.1" y2="1600.0" stroke="#bebebe" stroke-width="1.9" />
<line x1="637.5" y1="1596.0" x2="637.5" y2="1600.0" stroke="#bebebe" stroke-width="1.9" />
<line x1="645.4" y1="1592.3" x2="645.4" y2="1600.0" stroke="#bebebe" stroke-width="1.9" />
<line x1="653.3" y1="1596.0" x2="653.3" y2="1600.0" stroke="#bebebe" stroke-width="1.9" />
<line x1="674.8" y1="1562.9" x2="674.8" y2="1600.0" stroke="#bebebe" stroke-width="1.9" />
<line x1="678.6" y1="1596.0" x2="678.6" y2="1600.0" stroke="#bebebe" stroke-width="1.9" />
<line x1="748.8" y1="1594.5" x2="748.8" y2="1600.0" stroke="#bebebe" stroke-width="1.9" />
<line x1="792.1" y1="1588.9" x2="792.1" y2="1600.0" stroke="#bebebe" stroke-width="1.9" />
<line x1="803.4" y1="1598.0" x2="803.4" y2="1600.0" stroke="#bebebe" stroke-width="1.9" />
<line x1="823.1" y1="1590.7" x2="823.1" y2="1600.0" stroke="#bebebe" stroke-width="1.9" />
<line x1="872.9" y1="1596.0" x2="872.9" y2="1600.0" stroke="#bebebe" stroke-width="1.9" />
<line x1="884.7" y1="1596.0" x2="884.7" y2="1600.0" stroke="#bebebe" stroke-width="1.9" />
<line x1="872.5" y1="1597.0" x2="872.5" y2="1600.0" stroke="#bebebe" stroke-width="1.9" />
<line x1="885.2" y1="1597.0" x2="885.2" y2="1600.0" stroke="#bebebe" stroke-width="1.9" />
<line x1="897.2" y1="1597.0" x2="897.2" y2="1600.0" stroke="#bebebe" stroke-width="1.9" />
<line x1="904.0" y1="1585.0" x2="904.0" y2="1600.0" stroke="#bebebe" stroke-width="1.9" />
<line x1="977.5" y1="1597.0" x2="977.5" y2="1600.0" stroke="#bebebe" stroke-width="1.9" />
<line x1="1021.1" y1="1591.0" x2="1021.1" y2="1600.0" stroke="#bebebe" stroke-width="1.9" />
<line x1="133.0" y1="1417.7" x2="133.0" y2="1600.0" stroke="#d40a0a" stroke-width="2.2" />
<line x1="153.5" y1="1462.4" x2="153.5" y2="1600.0" stroke="#d40a0a" stroke-width="2.2" />
<line x1="231.8" y1="1575.6" x2="231.8" y2="1600.0" stroke="#d40a0a" stroke-width="2.2" />
<line x1="244.4" y1="1596.0" x2="244.4" y2="1600.0" stroke="#d40a0a" stroke-width="2.2" />
<line x1="264.8" y1="1540.7" x2="264.8" y2="1600.0" stroke="#d40a0a" stroke-width="2.2" />
<line x1="392.3" y1="1583.9" x2="392.3" y2="1600.0" stroke="#d40a0a" stroke-width="2.2" />
<line x1="413.3" y1="1534.7" x2="413.3" y2="1600.0" stroke="#d40a0a" stroke-width="2.2" />
<line x1="493.4" y1="1586.2" x2="493.4" y2="1600.0" stroke="#d40a0a" stroke-width="2.2" />
<line x1="505.8" y1="1592.3" x2="505.8" y2="1600.0" stroke="#d40a0a" stroke-width="2.2" />
<line x1="526.2" y1="1559.5" x2="526.2" y2="1600.0" stroke="#d40a0a" stroke-width="2.2" />
<line x1="658.4" y1="1578.7" x2="658.4" y2="1600.0" stroke="#d40a0a" stroke-width="2.2" />
<line x1="769.7" y1="1579.8" x2="769.7" y2="1600.0" stroke="#d40a0a" stroke-width="2.2" />
<line x1="790.2" y1="1541.0" x2="790.2" y2="1600.0" stroke="#d40a0a" stroke-width="2.2" />
<line x1="905.3" y1="1587.7" x2="905.3" y2="1600.0" stroke="#d40a0a" stroke-width="2.2" />
<line x1="917.5" y1="1581.7" x2="917.5" y2="1600.0" stroke="#d40a0a" stroke-width="2.2" />
<line x1="938.4" y1="1548.9" x2="938.4" y2="1600.0" stroke="#d40a0a" stroke-width="2.2" />
<line x1="988.3" y1="1587.7" x2="988.3" y2="1600.0" stroke="#d40a0a" stroke-width="2.2" />
<line x1="998.4" y1="1575.7" x2="998.4" y2="1600.0" stroke="#d40a0a" stroke-width="2.2" />
<line x1="1019.1" y1="1575.3" x2="1019.1" y2="1600.0" stroke="#d40a0a" stroke-width="2.2" />
<line x1="185.7" y1="1448.1" x2="185.7" y2="1600.0" stroke="#1a14ff" stroke-width="2.2" />
<line x1="207.0" y1="1247.7" x2="207.0" y2="1600.0" stroke="#1a14ff" stroke-width="2.2" />
<line x1="316.2" y1="1590.0" x2="316.2" y2="1600.0" stroke="#1a14ff" stroke-width="2.2" />
<line x1="317.6" y1="1590.0" x2="317.6" y2="1600.0" stroke="#1a14ff" stroke-width="2.2" />
<line x1="336.8" y1="1534.7" x2="336.8" y2="1600.0" stroke="#1a14ff" stroke-width="2.2" />
<line x1="135.4" y1="1120.2" x2="230.2" y2="1106.7" stroke="#a8a8a8" stroke-width="1.5" stroke-dasharray="0.01 3.3" stroke-dashoffset="-2.4" stroke-linecap="round"/>
<line x1="185.7" y1="1448.1" x2="292.3" y2="1434.6" stroke="#2418f0" stroke-width="2.2" stroke-dasharray="0.01 4.3" stroke-dashoffset="-2.4" stroke-linecap="round"/>
<line x1="336.8" y1="1534.7" x2="389.8" y2="1517.8" stroke="#2418f0" stroke-width="2.2" stroke-dasharray="0.01 4.3" stroke-dashoffset="-2.4" stroke-linecap="round"/>
<line x1="413.3" y1="1533.6" x2="467.5" y2="1429.8" stroke="#d01820" stroke-width="2.2" stroke-dasharray="0.01 4.3" stroke-dashoffset="-2.4" stroke-linecap="round"/>
<line x1="526.1" y1="1559.5" x2="579.4" y2="1544.4" stroke="#d01820" stroke-width="2.2" stroke-dasharray="0.01 4.3" stroke-dashoffset="-2.4" stroke-linecap="round"/>
<line x1="658.4" y1="1421.2" x2="658.4" y2="1578.0" stroke="#d01820" stroke-width="2.2" stroke-dasharray="0.01 3.4" stroke-dashoffset="-2.4" stroke-linecap="round"/>
<line x1="769.6" y1="1578.7" x2="821.9" y2="1430.9" stroke="#d01820" stroke-width="2.2" stroke-dasharray="0.01 4.3" stroke-dashoffset="-2.4" stroke-linecap="round"/>
<line x1="905.1" y1="1586.5" x2="959.5" y2="1435.5" stroke="#d01820" stroke-width="2.2" stroke-dasharray="0.01 4.3" stroke-dashoffset="-2.4" stroke-linecap="round"/>
<line x1="998.3" y1="1575.7" x2="1102.2" y2="1472.2" stroke="#d01820" stroke-width="1.9" stroke-dasharray="3 4.5 0.8 4.5"/>
<line x1="1019.0" y1="1575.3" x2="1127.3" y2="1557.8" stroke="#d01820" stroke-width="2.2" stroke-dasharray="0.01 4.3" stroke-dashoffset="-2.4" stroke-linecap="round"/>
<text x="176.80" y="1093.2" font-family="Liberation Serif, serif" font-size="28.7" fill="#b8b8b8" stroke="#b8b8b8" stroke-width="0.15" textLength="109.10" lengthAdjust="spacingAndGlyphs">86.09629</text>
<g font-family="Liberation Serif, serif" fill="#2418f0" stroke="#2418f0" stroke-width="0.5">
<text x="188.40" y="1182.3" font-size="28.7" textLength="14.64" lengthAdjust="spacingAndGlyphs">y</text>
<text x="203.04" y="1186.7" font-size="17.8" textLength="10.17" lengthAdjust="spacingAndGlyphs">1</text>
<path d="M214.73 1168.30H223.51" stroke-width="2.0" fill="none"/><path d="M219.12 1165.90V1170.70" stroke-width="2.4" fill="none"/>
</g>
<text x="145.20" y="1219.1" font-family="Liberation Serif, serif" font-size="28.7" fill="#2418f0" stroke="#2418f0" stroke-width="0.5" textLength="122.20" lengthAdjust="spacingAndGlyphs">148.05923</text>
<g font-family="Liberation Serif, serif" fill="#2418f0" stroke="#2418f0" stroke-width="0.5">
<text x="241.50" y="1381.6" font-size="28.7" textLength="15.69" lengthAdjust="spacingAndGlyphs">y</text>
<text x="257.19" y="1386.0" font-size="17.8" textLength="10.90" lengthAdjust="spacingAndGlyphs">1</text>
<path d="M269.74 1367.60H279.14" stroke-width="2.0" fill="none"/><path d="M274.44 1365.20V1370.00" stroke-width="2.4" fill="none"/>
<text x="279.68" y="1381.6" font-size="28.7" textLength="33.12" lengthAdjust="spacingAndGlyphs">-H</text>
<text x="312.80" y="1386.0" font-size="17.8" textLength="10.90" lengthAdjust="spacingAndGlyphs">2</text>
<text x="323.70" y="1381.6" font-size="28.7" textLength="22.67" lengthAdjust="spacingAndGlyphs">O</text>
</g>
<text x="231.60" y="1421.0" font-family="Liberation Serif, serif" font-size="28.7" fill="#2418f0" stroke="#2418f0" stroke-width="0.5" textLength="123.00" lengthAdjust="spacingAndGlyphs">130.04895</text>
<g font-family="Liberation Serif, serif" fill="#d01820" stroke="#d01820" stroke-width="0.5">
<text x="140.40" y="1436.8" font-size="28.7" textLength="14.64" lengthAdjust="spacingAndGlyphs">b</text>
<text x="155.04" y="1441.2" font-size="17.8" textLength="10.17" lengthAdjust="spacingAndGlyphs">1</text>
</g>
<g font-family="Liberation Serif, serif" fill="#d01820" stroke="#d01820" stroke-width="0.5">
<text x="251.60" y="1513.6" font-size="28.7" textLength="14.64" lengthAdjust="spacingAndGlyphs">b</text>
<text x="266.24" y="1518.0" font-size="17.8" textLength="10.17" lengthAdjust="spacingAndGlyphs">2</text>
</g>
<g font-family="Liberation Serif, serif" fill="#2418f0" stroke="#2418f0" stroke-width="0.5">
<text x="371.80" y="1465.9" font-size="28.7" textLength="14.64" lengthAdjust="spacingAndGlyphs">y</text>
<text x="386.44" y="1470.3" font-size="17.8" textLength="10.17" lengthAdjust="spacingAndGlyphs">2</text>
<path d="M398.13 1451.90H406.91" stroke-width="2.0" fill="none"/><path d="M402.52 1449.50V1454.30" stroke-width="2.4" fill="none"/>
</g>
<text x="327.10" y="1504.9" font-family="Liberation Serif, serif" font-size="28.7" fill="#2418f0" stroke="#2418f0" stroke-width="0.5" textLength="123.40" lengthAdjust="spacingAndGlyphs">261.14218</text>
<g font-family="Liberation Serif, serif" fill="#d01820" stroke="#d01820" stroke-width="0.5">
<text x="447.80" y="1376.7" font-size="28.7" textLength="14.64" lengthAdjust="spacingAndGlyphs">b</text>
<text x="462.44" y="1381.1" font-size="17.8" textLength="10.17" lengthAdjust="spacingAndGlyphs">3</text>
<path d="M474.13 1362.70H482.91" stroke-width="2.0" fill="none"/><path d="M478.52 1360.30V1365.10" stroke-width="2.4" fill="none"/>
</g>
<text x="403.00" y="1416.9" font-family="Liberation Serif, serif" font-size="28.7" fill="#d01820" stroke="#d01820" stroke-width="0.5" textLength="123.10" lengthAdjust="spacingAndGlyphs">328.14703</text>
<g font-family="Liberation Serif, serif" fill="#d01820" stroke="#d01820" stroke-width="0.5">
<text x="480.50" y="1560.7" font-size="28.7" textLength="12.99" lengthAdjust="spacingAndGlyphs">a</text>
<text x="493.49" y="1565.1" font-size="17.8" textLength="10.17" lengthAdjust="spacingAndGlyphs">4</text>
</g>
<g font-family="Liberation Serif, serif" fill="#d01820" stroke="#d01820" stroke-width="0.5">
<text x="560.70" y="1491.8" font-size="28.7" textLength="14.64" lengthAdjust="spacingAndGlyphs">b</text>
<text x="575.34" y="1496.2" font-size="17.8" textLength="10.17" lengthAdjust="spacingAndGlyphs">4</text>
<path d="M587.03 1477.80H595.81" stroke-width="2.0" fill="none"/><path d="M591.42 1475.40V1480.20" stroke-width="2.4" fill="none"/>
</g>
<text x="516.70" y="1532.0" font-family="Liberation Serif, serif" font-size="28.7" fill="#d01820" stroke="#d01820" stroke-width="0.5" textLength="123.50" lengthAdjust="spacingAndGlyphs">427.21524</text>
<g font-family="Liberation Serif, serif" fill="#d01820" stroke="#d01820" stroke-width="0.5">
<text x="639.10" y="1368.8" font-size="28.7" textLength="14.64" lengthAdjust="spacingAndGlyphs">b</text>
<text x="653.74" y="1373.2" font-size="17.8" textLength="10.17" lengthAdjust="spacingAndGlyphs">5</text>
<path d="M665.43 1354.80H674.21" stroke-width="2.0" fill="none"/><path d="M669.82 1352.40V1357.20" stroke-width="2.4" fill="none"/>
</g>
<text x="594.90" y="1408.3" font-family="Liberation Serif, serif" font-size="28.7" fill="#d01820" stroke="#d01820" stroke-width="0.5" textLength="123.20" lengthAdjust="spacingAndGlyphs">542.24255</text>
<g font-family="Liberation Serif, serif" fill="#d01820" stroke="#d01820" stroke-width="0.5">
<text x="770.70" y="1373.3" font-size="28.7" textLength="15.65" lengthAdjust="spacingAndGlyphs">b</text>
<text x="786.35" y="1377.7" font-size="17.8" textLength="10.87" lengthAdjust="spacingAndGlyphs">6</text>
<path d="M798.86 1359.30H808.23" stroke-width="2.0" fill="none"/><path d="M803.55 1356.90V1361.70" stroke-width="2.4" fill="none"/>
<text x="808.77" y="1373.3" font-size="28.7" textLength="33.03" lengthAdjust="spacingAndGlyphs">-H</text>
<text x="841.79" y="1377.7" font-size="17.8" textLength="10.87" lengthAdjust="spacingAndGlyphs">2</text>
<text x="852.66" y="1373.3" font-size="28.7" textLength="22.60" lengthAdjust="spacingAndGlyphs">O</text>
</g>
<text x="760.10" y="1412.8" font-family="Liberation Serif, serif" font-size="28.7" fill="#d01820" stroke="#d01820" stroke-width="0.5" textLength="121.62" lengthAdjust="spacingAndGlyphs">639.26111</text>
<g font-family="Liberation Serif, serif" fill="#d01820" stroke="#d01820" stroke-width="0.5">
<text x="771.40" y="1473.8" font-size="28.7" textLength="14.64" lengthAdjust="spacingAndGlyphs">b</text>
<text x="786.04" y="1478.2" font-size="17.8" textLength="10.17" lengthAdjust="spacingAndGlyphs">6</text>
<path d="M797.73 1459.80H806.51" stroke-width="2.0" fill="none"/><path d="M802.12 1457.40V1462.20" stroke-width="2.4" fill="none"/>
</g>
<text x="726.70" y="1512.8" font-family="Liberation Serif, serif" font-size="28.7" fill="#d01820" stroke="#d01820" stroke-width="0.5" textLength="123.40" lengthAdjust="spacingAndGlyphs">657.26678</text>
<g font-family="Liberation Serif, serif" fill="#d01820" stroke="#d01820" stroke-width="0.5">
<text x="943.90" y="1379.1" font-size="28.7" textLength="12.99" lengthAdjust="spacingAndGlyphs">a</text>
<text x="956.89" y="1383.5" font-size="17.8" textLength="10.17" lengthAdjust="spacingAndGlyphs">7</text>
<path d="M968.59 1365.10H977.36" stroke-width="2.0" fill="none"/><path d="M972.98 1362.70V1367.50" stroke-width="2.4" fill="none"/>
</g>
<text x="898.00" y="1418.0" font-family="Liberation Serif, serif" font-size="28.7" fill="#d01820" stroke="#d01820" stroke-width="0.5" textLength="122.54" lengthAdjust="spacingAndGlyphs">758.31183</text>
<g font-family="Liberation Serif, serif" fill="#d01820" stroke="#d01820" stroke-width="0.5">
<text x="919.50" y="1479.8" font-size="28.7" textLength="14.64" lengthAdjust="spacingAndGlyphs">b</text>
<text x="934.14" y="1484.2" font-size="17.8" textLength="10.17" lengthAdjust="spacingAndGlyphs">7</text>
<path d="M945.83 1465.80H954.61" stroke-width="2.0" fill="none"/><path d="M950.22 1463.40V1468.20" stroke-width="2.4" fill="none"/>
</g>
<text x="875.20" y="1518.9" font-family="Liberation Serif, serif" font-size="28.7" fill="#d01820" stroke="#d01820" stroke-width="0.5" textLength="123.80" lengthAdjust="spacingAndGlyphs">786.30896</text>
<g font-family="Liberation Serif, serif" fill="#d01820" stroke="#d01820" stroke-width="0.5">
<text x="1055.40" y="1414.6" font-size="28.7" textLength="15.54" lengthAdjust="spacingAndGlyphs">b</text>
<text x="1070.94" y="1419.0" font-size="17.8" textLength="10.80" lengthAdjust="spacingAndGlyphs">8</text>
<path d="M1083.37 1400.60H1092.68" stroke-width="2.0" fill="none"/><path d="M1088.03 1398.20V1403.00" stroke-width="2.4" fill="none"/>
<text x="1093.21" y="1414.6" font-size="28.7" textLength="32.81" lengthAdjust="spacingAndGlyphs">-H</text>
<text x="1126.02" y="1419.0" font-size="17.8" textLength="10.80" lengthAdjust="spacingAndGlyphs">2</text>
<text x="1136.82" y="1414.6" font-size="28.7" textLength="22.45" lengthAdjust="spacingAndGlyphs">O</text>
</g>
<text x="1044.20" y="1453.5" font-family="Liberation Serif, serif" font-size="28.7" fill="#d01820" stroke="#d01820" stroke-width="0.5" textLength="123.60" lengthAdjust="spacingAndGlyphs">839.33405</text>
<g font-family="Liberation Serif, serif" fill="#d01820" stroke="#d01820" stroke-width="0.5">
<text x="1109.40" y="1505.0" font-size="28.7" textLength="14.64" lengthAdjust="spacingAndGlyphs">b</text>
<text x="1124.04" y="1509.4" font-size="17.8" textLength="10.17" lengthAdjust="spacingAndGlyphs">8</text>
<path d="M1135.73 1491.00H1144.51" stroke-width="2.0" fill="none"/><path d="M1140.12 1488.60V1493.40" stroke-width="2.4" fill="none"/>
</g>
<text x="1064.60" y="1543.4" font-family="Liberation Serif, serif" font-size="28.7" fill="#d01820" stroke="#d01820" stroke-width="0.5" textLength="124.20" lengthAdjust="spacingAndGlyphs">857.34607</text>
</svg></body></html>
